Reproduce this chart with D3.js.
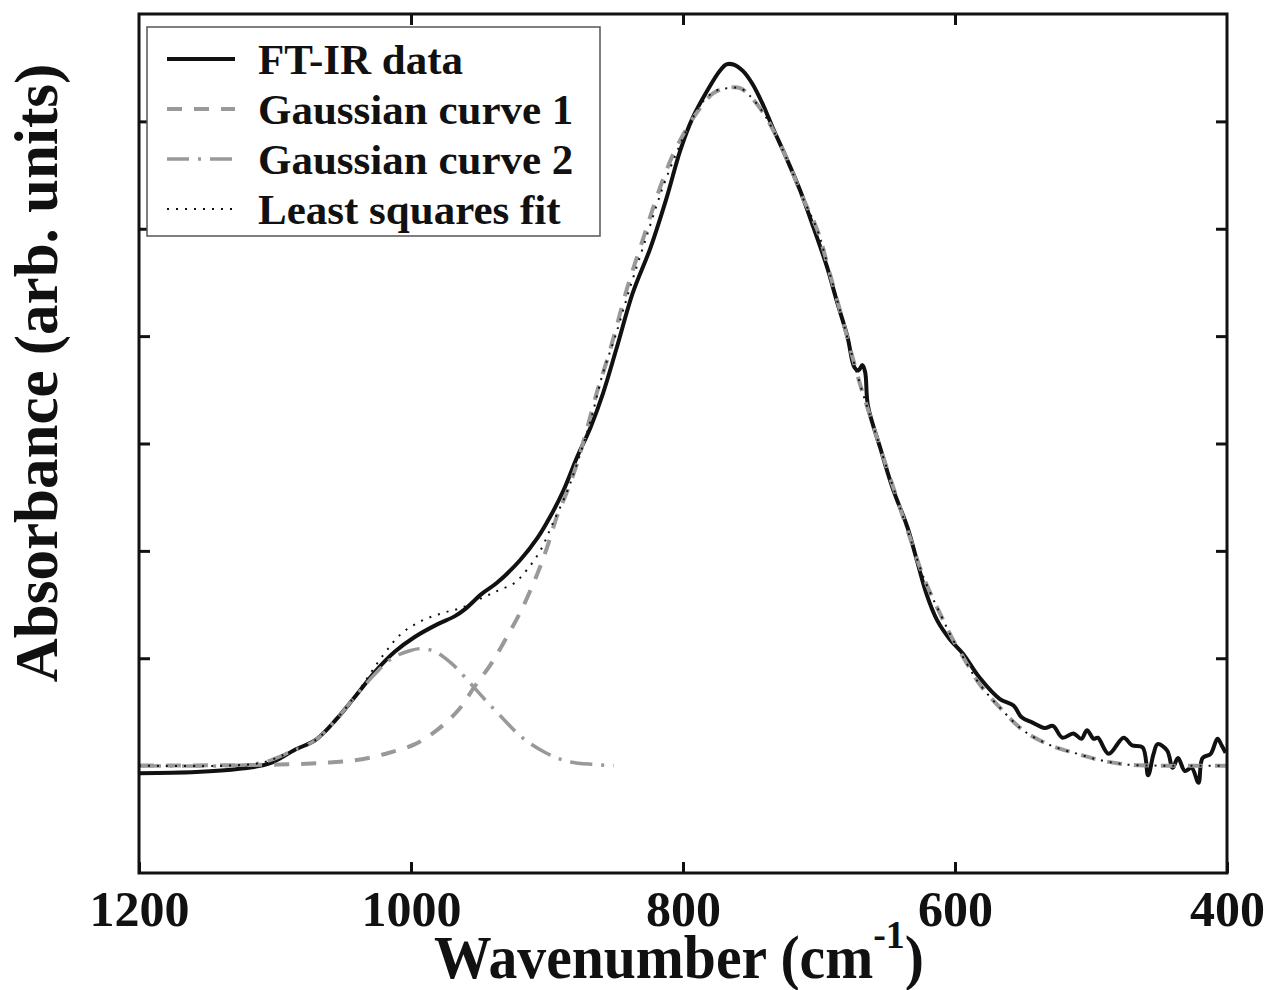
<!DOCTYPE html>
<html>
<head>
<meta charset="utf-8">
<script src="https://cdn.jsdelivr.net/npm/d3@7"></script>
<style>
  body { margin: 0; background: #fff; }
  text { font-family: "Liberation Serif", "Times New Roman", serif; font-weight: bold; fill: #111; }
</style>
</head>
<body>
<script>
// values: wavenumber (cm-1) and absorbance (arb. units)
var ftirWave = [1200,1158,1126,1104,1085,1070,1055,1040,1026,1012,997,980,968,960,948,937,920,907,898,888,
  878,868,859,849,837,824,812,802,793,782,773,768,763,756,749,741,734,724,714,704,
  694,687,679,674,671,668,666,664,655,646,635,628,621,613,604,594,582,567,557,551,
  543,534,528,521,513,507,503,498,495,487,476,470,462,458,454,451,444,440,436,431,
  426,421,418,412,407,404,401];
var ftirAbs = [-0.007,-0.006,-0.003,0.002,0.015,0.024,0.043,0.066,0.088,0.106,0.120,0.132,0.139,0.146,0.160,0.170,0.191,0.212,0.231,0.256,
  0.287,0.315,0.346,0.388,0.440,0.482,0.529,0.573,0.603,0.629,0.647,0.653,0.653,0.647,0.635,0.615,0.594,0.566,0.536,0.501,
  0.464,0.433,0.399,0.371,0.368,0.373,0.366,0.335,0.296,0.259,0.222,0.191,0.160,0.135,0.118,0.104,0.082,0.062,0.056,0.045,
  0.040,0.035,0.037,0.026,0.030,0.025,0.033,0.025,0.026,0.011,0.026,0.019,0.017,-0.009,0.011,0.020,0.014,-0.002,0.007,-0.005,
  -0.002,-0.016,0.007,0.011,0.025,0.019,0.012];

var gauss1Wave = [1200,1097,1060,1036,1016,997,980,965,953,941,929,918,907,900,893,885,878,871,863,856,
  851,841,829,817,807,797,787,778,768,758,751,741,731,721,712,701,692,682,670,662,
  655,643,633,623,613,601,594,582,567,550,530,510,493,474,452,427,400];
var gauss1Abs = [0,0.001,0.003,0.006,0.012,0.020,0.034,0.052,0.074,0.095,0.121,0.147,0.179,0.203,0.231,0.256,0.281,0.312,0.349,0.377,
  0.399,0.445,0.492,0.538,0.570,0.594,0.613,0.626,0.631,0.631,0.624,0.608,0.585,0.557,0.529,0.498,0.458,0.412,0.356,0.324,
  0.296,0.250,0.212,0.175,0.147,0.116,0.101,0.076,0.054,0.033,0.019,0.011,0.005,0.001,0,0,0];

var gauss2Wave = [1200,1134,1109,1090,1070,1055,1040,1026,1014,1001,992,982,970,958,946,934,919,901,885,865,851];
var gauss2Abs = [0,0,0.003,0.012,0.024,0.043,0.066,0.086,0.100,0.107,0.109,0.106,0.095,0.079,0.062,0.046,0.027,0.012,0.004,0.001,0];

var fitWave = [1200,1134,1109,1090,1070,1055,1040,1021,1007,992,977,963,948,936,924,915,905,896,885,878,
  868,859,850,839,827,815,804,795,785,775,765,758,751,741,731,721,712,701,692,682,
  670,662,655,643,633,623,613,601,594,582,567,550,530,510,493,474,452,427,400];
var fitAbs = [0,0,0.003,0.012,0.024,0.043,0.067,0.102,0.123,0.135,0.142,0.147,0.156,0.163,0.170,0.182,0.200,0.225,0.256,0.281,
  0.321,0.365,0.399,0.445,0.492,0.538,0.573,0.598,0.619,0.629,0.631,0.631,0.624,0.608,0.585,0.557,0.529,0.498,0.458,0.412,
  0.356,0.324,0.296,0.250,0.212,0.175,0.147,0.116,0.101,0.076,0.054,0.033,0.019,0.011,0.005,0.001,0,0,0];

var xTicks = [1200, 1000, 800, 600, 400];
var yTicks = [0.1, 0.2, 0.3, 0.4, 0.5, 0.6];
var legendLabels = ["FT-IR data", "Gaussian curve 1", "Gaussian curve 2", "Least squares fit"];

var width = 1268, height = 990;
var margin = {top: 14, right: 41, bottom: 117, left: 139};
var plotW = width - margin.left - margin.right
  , plotH = height - margin.top - margin.bottom;

var xScale = d3.scaleLinear()
    .domain([1200, 400])
    .range([margin.left, margin.left + plotW]);

var yScale = d3.scaleLinear()
    .domain([-0.1, 0.7])
    .range([margin.top + plotH, margin.top]);

var svg = d3.select("body")
            .append("svg")
            .attr("width", width)
            .attr("height", height);

function pairs(w, a) {
  return w.map(function(d, i) { return {w: d, a: a[i]}; });
}

var line = d3.line()
    .x(function(d) { return xScale(d.w); })
    .y(function(d) { return yScale(d.a); })
    .curve(d3.curveCatmullRom.alpha(0.5));

svg.append("clipPath").attr("id", "clip")
   .append("rect")
   .attr("x", margin.left).attr("y", margin.top)
   .attr("width", plotW).attr("height", plotH);

var series = [
  {data: pairs(ftirWave, ftirAbs), color: "#111", width: 4, dash: null},
  {data: pairs(gauss1Wave, gauss1Abs), color: "#999", width: 4, dash: "15,12"},
  {data: pairs(gauss2Wave, gauss2Abs), color: "#999", width: 3.5, dash: "22,9,3,9"},
  {data: pairs(fitWave, fitAbs), color: "#111", width: 2, dash: "2,7"}
];

var curves = svg.append("g").attr("clip-path", "url(#clip)");
series.forEach(function(s) {
  curves.append("path")
     .attr("d", line(s.data))
     .attr("fill", "none")
     .attr("stroke", s.color)
     .attr("stroke-width", s.width)
     .attr("stroke-dasharray", s.dash);
});

// axes: inward ticks on all four sides, labels only on the bottom
function styleAxis(g) {
  g.select(".domain").remove();
  g.selectAll(".tick line").attr("stroke", "#111").attr("stroke-width", 3);
}

var xAxis = svg.append("g")
   .attr("transform", `translate(0, ${margin.top + plotH})`)
   .call(d3.axisBottom(xScale).tickValues(xTicks).tickSize(-11).tickFormat(d3.format("d")))
   .call(styleAxis);
xAxis.selectAll(".tick text")
   .attr("y", 53).attr("dy", null)
   .style("font-size", "50px")
   .attr("fill", "#111");

svg.append("g")
   .attr("transform", `translate(0, ${margin.top})`)
   .call(d3.axisTop(xScale).tickValues(xTicks.slice(1, -1)).tickSize(-11).tickFormat(""))
   .call(styleAxis);

svg.append("g")
   .attr("transform", `translate(${margin.left}, 0)`)
   .call(d3.axisLeft(yScale).tickValues(yTicks).tickSize(-11).tickFormat(""))
   .call(styleAxis);

svg.append("g")
   .attr("transform", `translate(${margin.left + plotW}, 0)`)
   .call(d3.axisRight(yScale).tickValues(yTicks).tickSize(-11).tickFormat(""))
   .call(styleAxis);

// frame
svg.append("rect")
   .attr("x", margin.left).attr("y", margin.top)
   .attr("width", plotW).attr("height", plotH)
   .attr("fill", "none")
   .attr("stroke", "#111")
   .attr("stroke-width", 3);

// X label (narrowed a little, like the condensed face of the original)
var xLabel = svg.append("text")
   .attr("transform", "translate(679, 978) scale(0.945, 1)")
   .style("text-anchor", "middle")
   .style("font-size", "61px");
xLabel.append("tspan").text("Wavenumber (cm");
xLabel.append("tspan").attr("dy", -30).style("font-size", "40px").text("-1");
xLabel.append("tspan").attr("dy", 30).text(")");

// Y label
svg.append("text")
   .attr("transform", "translate(57, 373) rotate(-90)")
   .style("text-anchor", "middle")
   .style("font-size", "61px")
   .text("Absorbance (arb. units)");

// legend
var legend = svg.append("g");
legend.append("rect")
   .attr("x", 147).attr("y", 27)
   .attr("width", 453).attr("height", 209)
   .attr("fill", "#fff")
   .attr("stroke", "#555")
   .attr("stroke-width", 1.5);

legendLabels.forEach(function(label, i) {
  var s = series[i], ly = 59 + i * 50;
  legend.append("line")
     .attr("x1", 167).attr("x2", 235)
     .attr("y1", ly).attr("y2", ly)
     .attr("stroke", s.color)
     .attr("stroke-width", s.width)
     .attr("stroke-dasharray", s.dash);
  legend.append("text")
     .attr("x", 258).attr("y", ly)
     .attr("dy", "0.35em")
     .style("font-size", "43px")
     .text(label);
});
</script>
</body>
</html>
